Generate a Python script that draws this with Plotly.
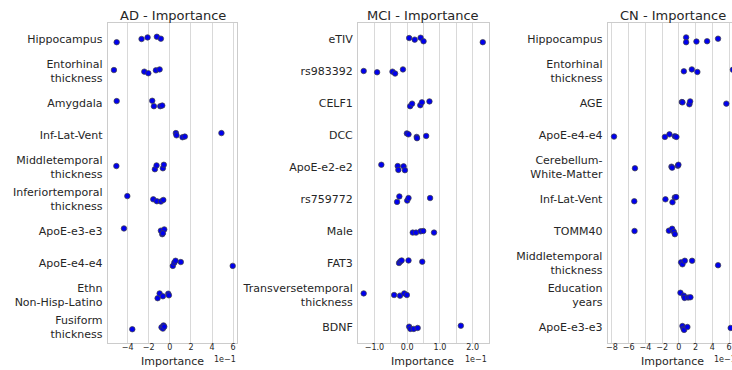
import plotly.graph_objects as go

# ---------------- data ----------------
ad_features = ["Hippocampus", "Entorhinal<br>thickness", "Amygdala", "Inf-Lat-Vent",
               "Middletemporal<br>thickness", "Inferiortemporal<br>thickness", "ApoE-e3-e3",
               "ApoE-e4-e4", "Ethn<br>Non-Hisp-Latino", "Fusiform<br>thickness"]
ad_values = [
    [-0.504, -0.268, -0.211, -0.123, -0.085],
    [-0.530, -0.242, -0.204, -0.132, -0.097],
    [-0.504, -0.167, -0.151, -0.091, -0.072],
    [0.057, 0.063, 0.120, 0.142, 0.489],
    [-0.507, -0.142, -0.126, -0.066, -0.057],
    [-0.403, -0.157, -0.123, -0.085, -0.062],
    [-0.435, -0.085, -0.072, -0.053, -0.066],
    [0.028, 0.042, 0.054, 0.104, 0.596],
    [-0.116, -0.097, -0.066, -0.015, -0.009],
    [-0.356, -0.079, -0.060, -0.066, -0.053],
]
ad_jitter = [
    [0.10, 0.0, -0.05, -0.07, -0.01],
    [-0.03, 0.02, 0.07, -0.02, -0.05],
    [-0.06, -0.07, 0.10, 0.10, 0.08],
    [-0.06, 0.01, 0.07, 0.05, -0.06],
    [-0.03, 0.07, -0.05, 0.04, -0.07],
    [-0.09, 0.01, 0.07, 0.08, 0.03],
    [-0.08, -0.01, 0.10, -0.05, 0.07],
    [0.09, -0.01, -0.07, -0.03, 0.09],
    [0.10, -0.05, 0.04, -0.04, 0.01],
    [0.07, 0.01, -0.05, 0.05, -0.01],
]

mci_features = ["eTIV", "rs983392", "CELF1", "DCC", "ApoE-e2-e2", "rs759772", "Male", "FAT3",
                "Transversetemporal<br>thickness", "BDNF"]
mci_values = [
    [0.006, 0.023, 0.041, 0.050, 0.231],
    [-0.133, -0.092, -0.045, -0.037, -0.013],
    [0.009, 0.015, 0.040, 0.045, 0.068],
    [-0.001, 0.004, 0.029, 0.030, 0.058],
    [-0.079, -0.029, -0.027, -0.011, -0.007],
    [-0.031, -0.024, 0.000, 0.004, 0.070],
    [0.017, 0.027, 0.041, 0.049, 0.082],
    [-0.025, -0.021, -0.017, 0.004, 0.046],
    [-0.133, -0.040, -0.022, -0.009, -0.001],
    [0.006, 0.010, 0.020, 0.032, 0.164],
]
mci_jitter = [
    [-0.03, 0.02, -0.04, 0.07, 0.10],
    [0.0, 0.04, 0.02, 0.08, -0.05],
    [0.10, 0.02, 0.07, -0.02, -0.05],
    [-0.05, -0.02, 0.06, 0.10, 0.03],
    [-0.07, -0.03, 0.09, -0.02, 0.10],
    [0.09, -0.08, 0.05, -0.03, -0.03],
    [0.05, 0.05, 0.01, 0.0, 0.05],
    [0.0, -0.05, -0.08, -0.08, -0.04],
    [-0.05, 0.0, 0.02, -0.05, 0.0],
    [-0.01, 0.06, 0.06, 0.03, -0.04],
]

cn_features = ["Hippocampus", "Entorhinal<br>thickness", "AGE", "ApoE-e4-e4",
               "Cerebellum-<br>White-Matter", "Inf-Lat-Vent", "TOMM40",
               "Middletemporal<br>thickness", "Education<br>years", "ApoE-e3-e3"]
cn_values = [
    [0.087, 0.087, 0.210, 0.337, 0.468],
    [0.060, 0.155, 0.221, 0.645, 0.690],
    [0.036, 0.043, 0.126, 0.135, 0.567],
    [-0.774, -0.167, -0.112, -0.048, -0.029],
    [-0.524, -0.088, -0.080, -0.012, -0.005],
    [-0.532, -0.160, -0.076, -0.048, -0.032],
    [-0.529, -0.119, -0.080, -0.060, -0.048],
    [0.027, 0.043, 0.071, 0.158, 0.468],
    [0.019, 0.060, 0.068, 0.111, 0.138],
    [0.043, 0.055, 0.063, 0.102, 0.619],
]
cn_jitter = [
    [-0.05, 0.10, 0.08, 0.07, -0.01],
    [0.01, -0.05, 0.03, -0.04, 0.05],
    [-0.03, -0.02, 0.04, -0.05, 0.02],
    [0.05, 0.06, -0.02, 0.04, 0.06],
    [0.04, -0.01, 0.02, -0.04, -0.07],
    [0.07, 0.01, 0.10, -0.05, -0.06],
    [0.0, -0.01, -0.07, 0.02, 0.10],
    [-0.02, 0.04, -0.07, -0.07, 0.07],
    [-0.07, 0.02, 0.09, 0.08, 0.07],
    [-0.03, 0.05, 0.09, 0.0, 0.03],
]

panel_titles = ["AD - Importance", "MCI - Importance", "CN - Importance"]
ad_ticks = [-0.4, -0.2, 0.0, 0.2, 0.4, 0.6]
ad_ticklabels = ["\u22124", "\u22122", "0", "2", "4", "6"]
mci_ticks = [-0.10, -0.05, 0.0, 0.05, 0.10, 0.15, 0.20]
mci_ticklabels = ["\u22121.0", "", "0.0", "", "1.0", "", "2.0"]
cn_ticks = [-0.8, -0.6, -0.4, -0.2, 0.0, 0.2, 0.4, 0.6]
cn_ticklabels = ["\u22128", "\u22126", "\u22124", "\u22122", "0", "2", "4", "6"]
x_label = "Importance"
exponent_label = "1e\u22121"

# ---------------- layout helpers ----------------
W, H = 732, 370
panels = [
    dict(feat=ad_features, vals=ad_values, jit=ad_jitter, ticks=ad_ticks, labels=ad_ticklabels,
         px=(106, 236), rng=(-0.589, 0.640), mirror=True, center=171),
    dict(feat=mci_features, vals=mci_values, jit=mci_jitter, ticks=mci_ticks, labels=mci_ticklabels,
         px=(357, 488), rng=(-0.1503, 0.249), mirror=True, center=422),
    dict(feat=cn_features, vals=cn_values, jit=cn_jitter, ticks=cn_ticks, labels=cn_ticklabels,
         px=(607.3, 732), rng=(-0.850, 0.6345), mirror=False, center=673),
]
y_top, y_bot = 23, 343
ydom = [1 - y_bot / H, 1 - y_top / H]

TEXT = "#262626"
GRID = "#d9d9d9"
SPINE = "#cccccc"

fig = go.Figure()
annotations = []
for i, p in enumerate(panels):
    ax = "" if i == 0 else str(i + 1)
    xs, ys = [], []
    for k, (row, jrow) in enumerate(zip(p["vals"], p["jit"])):
        for v, j in zip(row, jrow):
            xs.append(v)
            ys.append(k + j)
    fig.add_trace(go.Scatter(
        x=xs, y=ys, mode="markers", xaxis="x" + ax, yaxis="y" + ax,
        marker=dict(size=5.5, color="#0000ee", line=dict(color="#444444", width=0.7)),
        showlegend=False, hoverinfo="x+y", cliponaxis=True))
    xdom = [p["px"][0] / W, p["px"][1] / W]
    fig.update_layout(**{
        "xaxis" + ax: dict(domain=xdom, range=list(p["rng"]), tickvals=p["ticks"], ticktext=p["labels"],
                           showgrid=True, gridcolor=GRID, gridwidth=1, zeroline=False,
                           showline=True, linecolor=SPINE, linewidth=1, mirror=True,
                           ticks="", ticklabelstandoff=-4,
                           tickfont=dict(family="DejaVu Sans", size=8, color=TEXT),
                           anchor="y" + ax, fixedrange=True),
        "yaxis" + ax: dict(domain=ydom, range=[9.5, -0.5], tickvals=list(range(10)), ticktext=p["feat"],
                           showgrid=False, zeroline=False, showline=True, linecolor=SPINE,
                           linewidth=1, mirror=p["mirror"], ticks="", ticklabelstandoff=2,
                           tickfont=dict(family="DejaVu Sans", size=11, color=TEXT),
                           anchor="x" + ax, fixedrange=True),
    })
    annotations.append(dict(text=panel_titles[i], x=p["center"] / W, y=1 - 15 / H, xref="paper",
                            yref="paper", showarrow=False, xanchor="center", yanchor="middle",
                            font=dict(family="DejaVu Sans", size=13, color=TEXT)))
    annotations.append(dict(text=x_label, x=(p["px"][0] + 65) / W, y=1 - 361.5 / H, xref="paper",
                            yref="paper", showarrow=False, xanchor="center", yanchor="middle",
                            font=dict(family="DejaVu Sans", size=11, color=TEXT)))
    annotations.append(dict(text=exponent_label, x=(p["px"][0] + 131) / W, y=1 - 359 / H, xref="paper",
                            yref="paper", showarrow=False, xanchor="right", yanchor="middle",
                            font=dict(family="DejaVu Sans", size=8, color=TEXT)))

fig.update_layout(width=W, height=H, margin=dict(l=0, r=0, t=0, b=0),
                  paper_bgcolor="white", plot_bgcolor="white", annotations=annotations,
                  font=dict(family="DejaVu Sans", color=TEXT))
fig.write_html("out.html", config={"displayModeBar": False},
               post_script="document.body.style.margin='0';document.body.style.overflow='hidden';")
